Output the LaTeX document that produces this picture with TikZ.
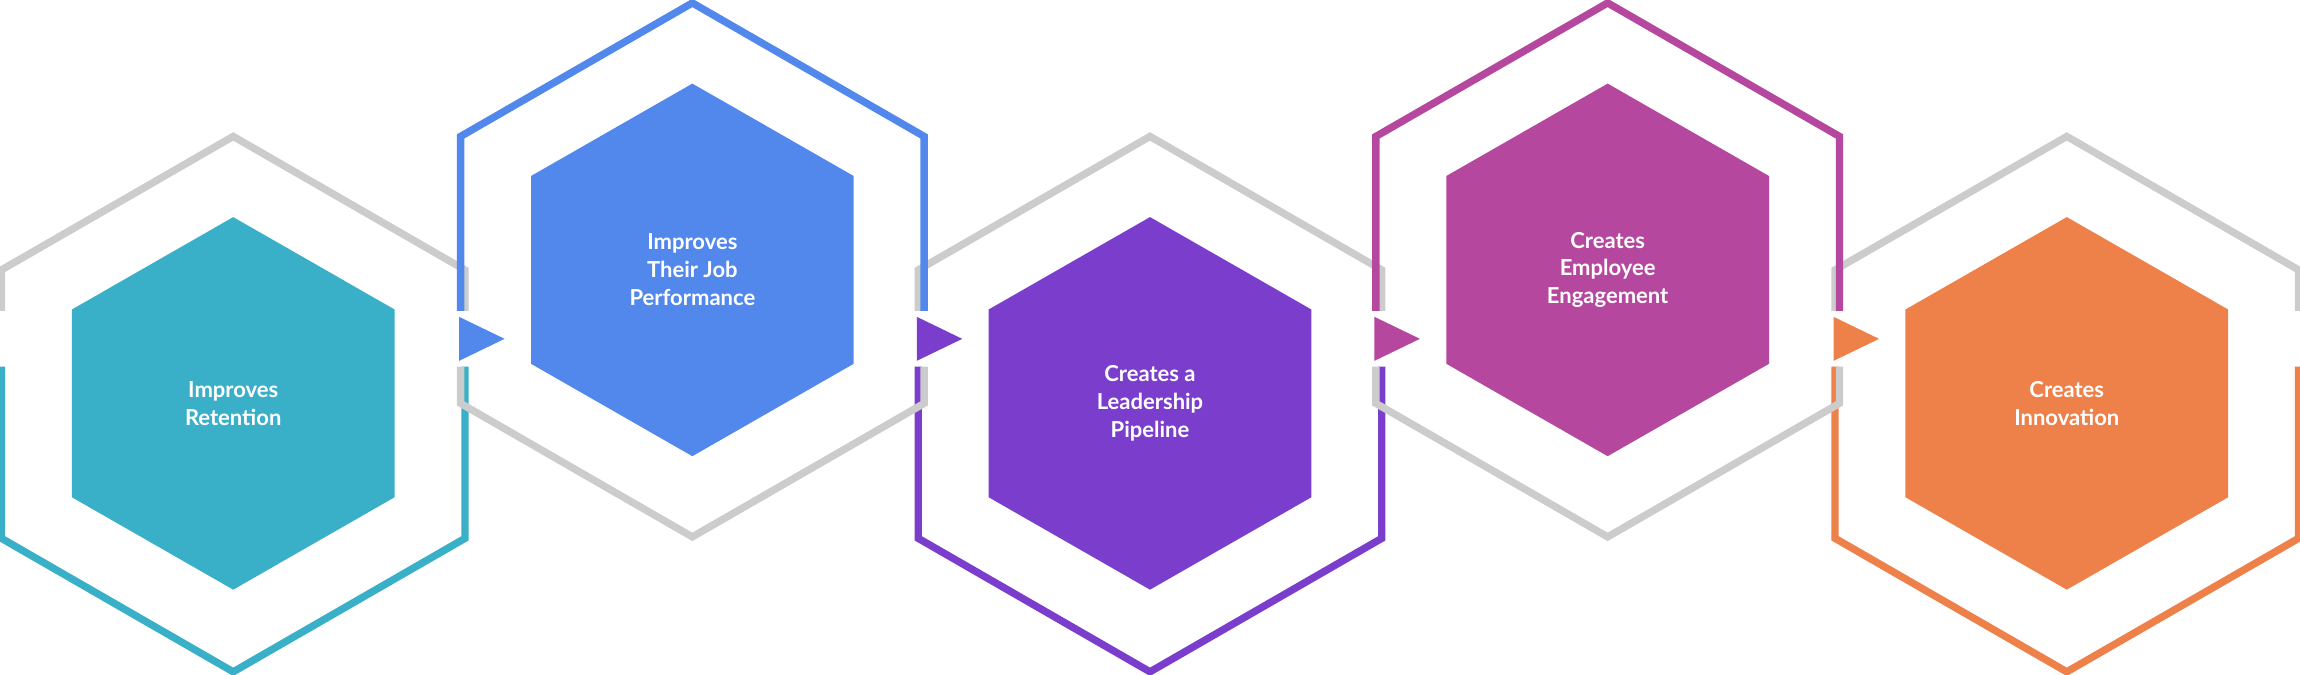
\documentclass[tikz,border=0pt]{standalone}
\usepackage{fontspec}
\setmainfont{Lato}
\usetikzlibrary{positioning}

\definecolor{cTeal}{HTML}{3AB0C8}
\definecolor{cBlue}{HTML}{5288EB}
\definecolor{cPurple}{HTML}{7B3DCB}
\definecolor{cMagenta}{HTML}{B6479F}
\definecolor{cOrange}{HTML}{EE8049}
\definecolor{cGray}{HTML}{CCCCCC}

\tikzset{
  ring/.style={line width=5pt, line join=miter},
  label/.style={text=white, font=\fontsize{15}{19}\selectfont\bfseries, align=center},
  tip/.style={fill=#1}
}

\begin{document}
\begin{tikzpicture}[x=1pt, y=-1pt]
	\useasboundingbox (0,0) rectangle (1568,460);
	
	% outer rings, odd (low)
	\draw[ring, cGray] (1,212) -- (1,184) -- (159,93) -- (317,184) -- (317,212);
	\draw[ring, cTeal] (1,250) -- (1,367) -- (159,458) -- (317,367) -- (317,250);
	\draw[ring, cGray] (626,212) -- (626,184) -- (784,93) -- (942,184) -- (942,212);
	\draw[ring, cPurple] (626,250) -- (626,367) -- (784,458) -- (942,367) -- (942,250);
	\draw[ring, cGray] (1251,212) -- (1251,184) -- (1409,93) -- (1567,184) -- (1567,212);
	\draw[ring, cOrange] (1251,250) -- (1251,367) -- (1409,458) -- (1567,367) -- (1567,250);
	
	% outer rings, even (high)
	\draw[ring, cBlue] (314,212) -- (314,93) -- (472,2) -- (630,93) -- (630,212);
	\draw[ring, cGray] (314,250) -- (314,275) -- (472,366) -- (630,275) -- (630,250);
	\draw[ring, cMagenta] (938,212) -- (938,93) -- (1096,2) -- (1254,93) -- (1254,212);
	\draw[ring, cGray] (938,250) -- (938,275) -- (1096,366) -- (1254,275) -- (1254,250);
	
	% inner hexagons
	\fill[cTeal] (159,148) -- (269,211) -- (269,339) -- (159,402) -- (49,339) -- (49,211) -- cycle;
	\fill[cBlue] (472,57) -- (582,120) -- (582,248) -- (472,311) -- (362,248) -- (362,120) -- cycle;
	\fill[cPurple] (784,148) -- (894,211) -- (894,339) -- (784,402) -- (674,339) -- (674,211) -- cycle;
	\fill[cMagenta] (1096,57) -- (1206,120) -- (1206,248) -- (1096,311) -- (986,248) -- (986,120) -- cycle;
	\fill[cOrange] (1409,148) -- (1519,211) -- (1519,339) -- (1409,402) -- (1299,339) -- (1299,211) -- cycle;
	
	% arrow tips
	\fill[tip=cBlue] (313,216) -- (344,231) -- (313,246) -- cycle;
	\fill[tip=cPurple] (625,216) -- (656,231) -- (625,246) -- cycle;
	\fill[tip=cMagenta] (937,216) -- (968,231) -- (937,246) -- cycle;
	\fill[tip=cOrange] (1250,216) -- (1281,231) -- (1250,246) -- cycle;
	
	% labels
	\node[label] (retention) at (159,275) {Improves\\Retention};
	\node[label] (performance) at (472,184) {Improves\\Their Job\\Performance};
	\node[label] (pipeline) at (784,275) {Creates a\\Leadership\\Pipeline};
	\node[label] (engagement) at (1096,184) {Creates\\Employee\\Engagement};
	\node[label] (innovation) at (1409,275) {Creates\\Innovation};
	
\end{tikzpicture}
\end{document}
